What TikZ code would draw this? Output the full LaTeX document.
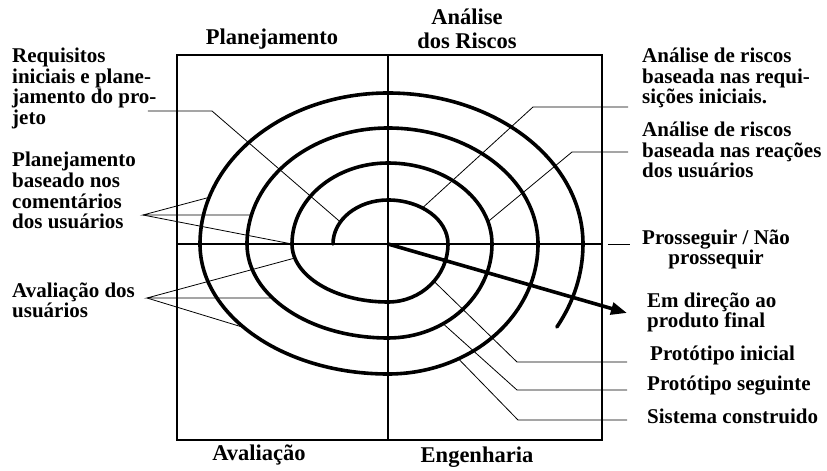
\documentclass[tikz,border=0pt]{standalone}
\usepackage{fontspec}
\setmainfont{Liberation Serif}
\usetikzlibrary{arrows.meta}
\newcommand{\lblfont}{\fontsize{21}{20.5}\selectfont\bfseries}
\newcommand{\ttlfont}{\fontsize{22.5}{24}\selectfont\bfseries}
\tikzset{
  frame/.style  ={line width=1.2pt},
  spiral/.style ={line width=3.6pt, line cap=round, line join=round},
  leader/.style ={line width=0.8pt},
  prog/.style   ={-{Triangle[length=16pt,width=12pt]}, line width=3.6pt},
  lbl/.style    ={font=\lblfont, inner sep=0pt, align=left, anchor=base west},
  ttl/.style    ={font=\ttlfont, inner sep=0pt, align=center, anchor=base},
}

\begin{document}
\begin{tikzpicture}[x=1pt,y=1pt]
  \useasboundingbox (-388,-227) rectangle (439,244);

  % quadrants
  \draw[frame] (-211,-196) rectangle (214,189);
  \draw[frame] (0,-196) -- (0,189);
  \draw[frame] (-211,0) -- (214,0);

  % spiral, quarter ellipses round the centre
  \draw[spiral] (-55,0)
    \foreach \a/\b/\rx/\ry in {180/90/55/44, 90/0/60/44, 0/-90/60/58, -90/-180/96/58,
                              180/90/96/81, 90/0/104/81, 0/-90/104/94, -90/-180/141/94,
                              180/90/141/116, 90/0/150/116, 0/-90/150/130, -90/-180/188/130,
                              180/90/188/151, 90/0/195/151, 0/-30/195/166}
    { arc[start angle=\a, end angle=\b, x radius=\rx, y radius=\ry] };

  \coordinate (o) at (0,0);
  \coordinate (tip) at (239,-69);
  \draw[prog] (o) -- (tip);

  % titles (base = last line)
  \node[ttl] (plan) at (-116,199) {Planejamento};
  \node[ttl] (risk) at (79,195) {Análise\\dos Riscos};
  \node[ttl] (aval) at (-129,-216) {Avaliação};
  \node[ttl] (eng)  at (89,-218) {Engenharia};

  % labels
  \node[lbl] (req)   at (-376,119.5) {Requisitos\\iniciais e plane-\\jamento do pro-\\jeto};
  \node[lbl] (coment) at (-376,15.5) {Planejamento\\baseado nos\\comentários\\dos usuários};
  \node[lbl] (usr)   at (-376,-73.5) {Avaliação dos\\usuários};
  \node[lbl] (rreq)  at (254,140) {Análise de riscos\\baseada nas requi-\\sições iniciais.};
  \node[lbl] (rreac) at (254,66) {Análise de riscos\\baseada nas reações\\dos usuários};
  \node[lbl, align=center] (go) at (254,-20.5) {Prosseguir / Não\\prossequir};
  \node[lbl] (final) at (259,-83.5) {Em direção ao\\produto final};
  \node[lbl] (p1)    at (262,-116) {Protótipo inicial};
  \node[lbl] (p2)    at (259,-146) {Protótipo seguinte};
  \node[lbl] (sys)   at (259,-179) {Sistema construido};

  % points on the spiral
  \coordinate (s1) at (150:55 and 44);
  \coordinate (s2) at (162:188 and 151);
  \coordinate (s3) at (165.5:141 and 116);
  \coordinate (s4) at (180:96 and 81);
  \coordinate (s5) at (194:96 and 58);
  \coordinate (s6) at (215.07:141 and 94);
  \coordinate (s7) at (220:188 and 130);
  \coordinate (s8) at (55:60 and 44);
  \coordinate (s9) at (16:104 and 81);
  \coordinate (s10) at (-40:60 and 58);
  \coordinate (s11) at (-58:104 and 94);
  \coordinate (s12) at (-62:150 and 130);

  % leaders, left
  \coordinate (reqA) at (-240,133);
  \coordinate (reqB) at (-176,133);
  \draw[leader] (reqA) -- (reqB) -- (s1);
  \coordinate (comA) at (-245,29);
  \draw[leader] (s2) -- (comA) -- (s3);
  \draw[leader] (comA) -- (s4);
  \coordinate (usrA) at (-241,-54);
  \draw[leader] (s5) -- (usrA) -- (s6);
  \draw[leader] (usrA) -- (s7);

  % leaders, right
  \coordinate (rqA) at (240,137);
  \coordinate (rqB) at (145,137);
  \draw[leader] (rqA) -- (rqB) -- (s8);
  \coordinate (rcA) at (240,92);
  \coordinate (rcB) at (184,92);
  \draw[leader] (rcA) -- (rcB) -- (s9);
  \coordinate (goA) at (220,0);
  \coordinate (goB) at (242,0);
  \draw[leader] (goA) -- (goB);
  \coordinate (p1A) at (239,-118);
  \coordinate (p1B) at (129,-118);
  \draw[leader] (p1A) -- (p1B) -- (s10);
  \coordinate (p2A) at (239,-146);
  \coordinate (p2B) at (129,-146);
  \draw[leader] (p2A) -- (p2B) -- (s11);
  \coordinate (syA) at (239,-176);
  \coordinate (syB) at (130,-176);
  \draw[leader] (syA) -- (syB) -- (s12);
\end{tikzpicture}
\end{document}
